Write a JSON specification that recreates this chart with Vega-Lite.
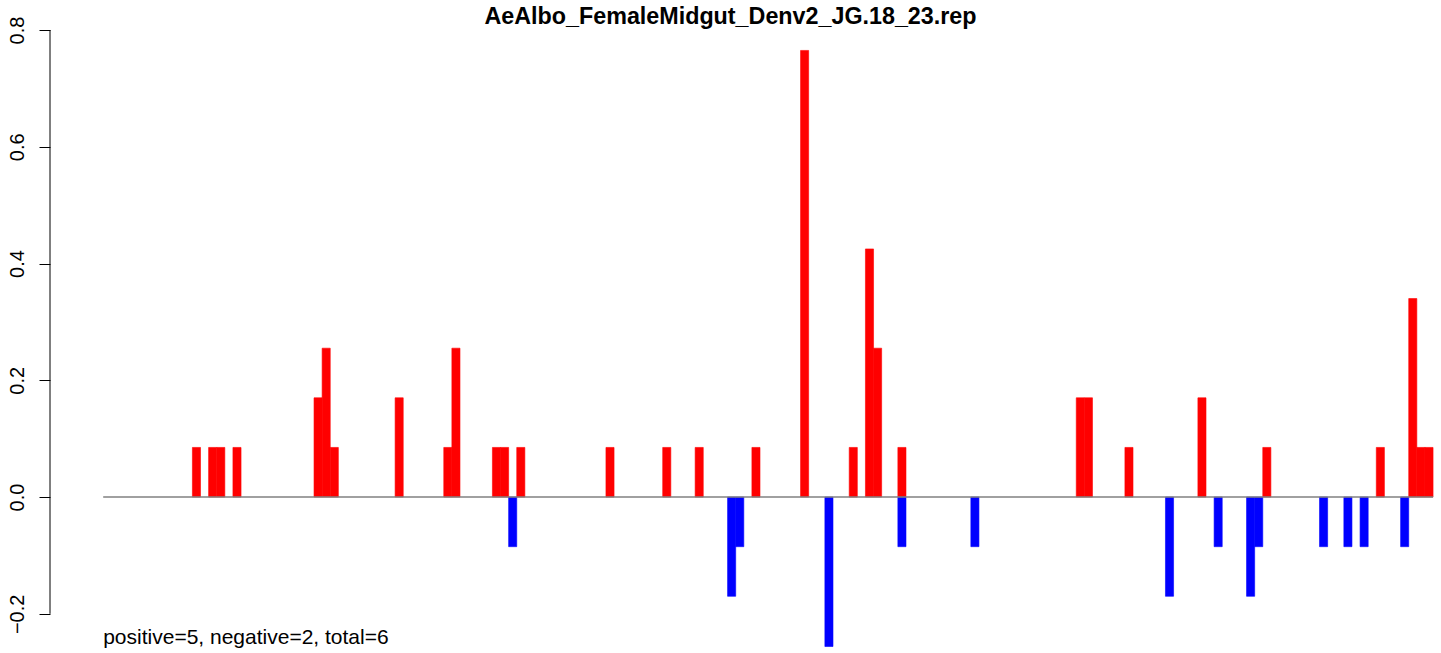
{
  "$schema": "https://vega.github.io/schema/vega-lite/v6.json",
  "width": 1391,
  "height": 623,
  "autosize": {"type": "none"},
  "padding": {"left": 50, "top": 30, "right": 0, "bottom": 0},
  "background": "white",
  "config": {"view": {"stroke": null}, "font": "Liberation Sans"},
  "title": {"text": "AeAlbo_FemaleMidgut_Denv2_JG.18_23.rep", "font": "Liberation Sans", "fontSize": 23.3, "fontWeight": "bold", "anchor": "middle", "frame": "group", "dx": -15, "dy": 22, "offset": -9, "baseline": "alphabetic", "color": "black"},
  "datasets": {
    "bars": [
      {"start": 11, "end": 12, "value": 0.085, "sign": "pos"},
      {"start": 13, "end": 14, "value": 0.085, "sign": "pos"},
      {"start": 14, "end": 15, "value": 0.085, "sign": "pos"},
      {"start": 16, "end": 17, "value": 0.085, "sign": "pos"},
      {"start": 26, "end": 27, "value": 0.17, "sign": "pos"},
      {"start": 27, "end": 28, "value": 0.255, "sign": "pos"},
      {"start": 28, "end": 29, "value": 0.085, "sign": "pos"},
      {"start": 36, "end": 37, "value": 0.17, "sign": "pos"},
      {"start": 42, "end": 43, "value": 0.085, "sign": "pos"},
      {"start": 43, "end": 44, "value": 0.255, "sign": "pos"},
      {"start": 48, "end": 49, "value": 0.085, "sign": "pos"},
      {"start": 49, "end": 50, "value": 0.085, "sign": "pos"},
      {"start": 50, "end": 51, "value": -0.085, "sign": "neg"},
      {"start": 51, "end": 52, "value": 0.085, "sign": "pos"},
      {"start": 62, "end": 63, "value": 0.085, "sign": "pos"},
      {"start": 69, "end": 70, "value": 0.085, "sign": "pos"},
      {"start": 73, "end": 74, "value": 0.085, "sign": "pos"},
      {"start": 77, "end": 78, "value": -0.17, "sign": "neg"},
      {"start": 78, "end": 79, "value": -0.085, "sign": "neg"},
      {"start": 80, "end": 81, "value": 0.085, "sign": "pos"},
      {"start": 86, "end": 87, "value": 0.765, "sign": "pos"},
      {"start": 89, "end": 90, "value": -0.256, "sign": "neg"},
      {"start": 92, "end": 93, "value": 0.085, "sign": "pos"},
      {"start": 94, "end": 95, "value": 0.425, "sign": "pos"},
      {"start": 95, "end": 96, "value": 0.255, "sign": "pos"},
      {"start": 98, "end": 99, "value": 0.085, "sign": "pos"},
      {"start": 98, "end": 99, "value": -0.085, "sign": "neg"},
      {"start": 107, "end": 108, "value": -0.085, "sign": "neg"},
      {"start": 120, "end": 121, "value": 0.17, "sign": "pos"},
      {"start": 121, "end": 122, "value": 0.17, "sign": "pos"},
      {"start": 126, "end": 127, "value": 0.085, "sign": "pos"},
      {"start": 131, "end": 132, "value": -0.17, "sign": "neg"},
      {"start": 135, "end": 136, "value": 0.17, "sign": "pos"},
      {"start": 137, "end": 138, "value": -0.085, "sign": "neg"},
      {"start": 141, "end": 142, "value": -0.17, "sign": "neg"},
      {"start": 142, "end": 143, "value": -0.085, "sign": "neg"},
      {"start": 143, "end": 144, "value": 0.085, "sign": "pos"},
      {"start": 150, "end": 151, "value": -0.085, "sign": "neg"},
      {"start": 153, "end": 154, "value": -0.085, "sign": "neg"},
      {"start": 155, "end": 156, "value": -0.085, "sign": "neg"},
      {"start": 157, "end": 158, "value": 0.085, "sign": "pos"},
      {"start": 160, "end": 161, "value": -0.085, "sign": "neg"},
      {"start": 161, "end": 162, "value": 0.34, "sign": "pos"},
      {"start": 162, "end": 163, "value": 0.085, "sign": "pos"},
      {"start": 163, "end": 164, "value": 0.085, "sign": "pos"}
    ],
    "base": [{"x": 0, "x2": 164, "y": 0}],
    "yaxis": [{"x": -6.56, "y": -0.2, "y2": 0.8}],
    "note": [{"x": 0, "y": -0.252, "label": "positive=5, negative=2, total=6"}]
  },
  "layer": [
    {
      "data": {"name": "bars"},
      "mark": {"type": "rect", "strokeWidth": 0.6},
      "encoding": {
        "x": {"field": "start", "type": "quantitative", "scale": {"domain": [-6.56, 164.98], "nice": false, "zero": false}, "axis": null},
        "x2": {"field": "end"},
        "y": {"field": "value", "type": "quantitative", "scale": {"domain": [-0.2671, 0.8], "nice": false, "zero": false},
              "axis": {"orient": "left", "domain": false, "grid": false, "title": null, "values": [-0.2, 0, 0.2, 0.4, 0.6, 0.8], "format": ".1f", "labelAngle": -90, "labelAlign": "center", "labelBaseline": "bottom", "labelFontSize": 20, "labelFont": "Liberation Sans", "labelColor": "black", "tickColor": "black", "tickSize": 11, "tickWidth": 1, "labelPadding": 12}},
        "y2": {"datum": 0},
        "color": {"field": "sign", "type": "nominal", "scale": {"domain": ["pos", "neg"], "range": ["#FF0000", "#0000FF"]}, "legend": null},
        "stroke": {"field": "sign", "type": "nominal", "scale": {"domain": ["pos", "neg"], "range": ["#FF0000", "#0000FF"]}, "legend": null}
      }
    },
    {
      "data": {"name": "base"},
      "mark": {"type": "rule", "color": "#808080", "strokeWidth": 1.5},
      "encoding": {
        "x": {"field": "x", "type": "quantitative"},
        "x2": {"field": "x2"},
        "y": {"field": "y", "type": "quantitative"}
      }
    },
    {
      "data": {"name": "yaxis"},
      "mark": {"type": "rule", "color": "black", "strokeWidth": 1},
      "encoding": {
        "x": {"field": "x", "type": "quantitative"},
        "y": {"field": "y", "type": "quantitative"},
        "y2": {"field": "y2"}
      }
    },
    {
      "data": {"name": "note"},
      "mark": {"type": "text", "align": "left", "baseline": "alphabetic", "fontSize": 21, "font": "Liberation Sans", "color": "black"},
      "encoding": {
        "x": {"field": "x", "type": "quantitative"},
        "y": {"field": "y", "type": "quantitative"},
        "text": {"field": "label"}
      }
    }
  ]
}
